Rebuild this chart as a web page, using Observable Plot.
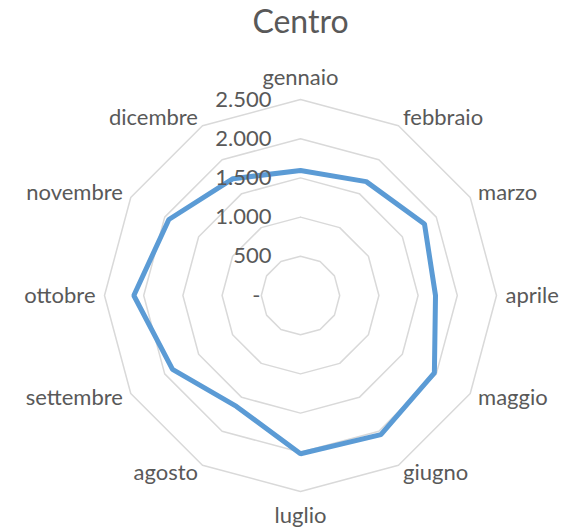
<!DOCTYPE html>
<html><head><meta charset="utf-8">
<script src="https://cdn.jsdelivr.net/npm/d3@7"></script>
<script src="https://cdn.jsdelivr.net/npm/@observablehq/plot@0.6"></script>
<style>body{margin:0;background:#fff;}</style>
</head><body><div id="chart"></div>
<script>
const title = "Centro";
const months = ["gennaio","febbraio","marzo","aprile","maggio","giugno","luglio","agosto","settembre","ottobre","novembre","dicembre"];
const values = [1594, 1677, 1826, 1722, 1972, 2050, 2019, 1634, 1885, 2126, 1939, 1721];
const tickValues = [0, 500, 1000, 1500, 2000, 2500];

const W = 581, H = 531, cx = 300, cy = 295, R = 196, maxV = 2500;
const k = maxV / R; // value units per pixel
const n = months.length;
const ang = i => i * 2 * Math.PI / n;
const px = (v, i) => v * Math.sin(ang(i));
const py = (v, i) => v * Math.cos(ang(i));

const fmt = d3.formatLocale({decimal: ",", thousands: ".", grouping: [3], currency: ["", ""]}).format(",d");
const tickLabel = v => v === 0 ? "-" : fmt(v);

const rings = [];
tickValues.filter(t => t > 0).forEach(t => {
  for (let i = 0; i <= n; i++) rings.push({t, x: px(t, i % n), y: py(t, i % n)});
});
const series = [];
for (let i = 0; i <= n; i++) series.push({x: px(values[i % n], i % n), y: py(values[i % n], i % n)});

const labels = months.map((m, i) => {
  const s = Math.sin(ang(i));
  const side = Math.abs(s) < 1e-6 ? "middle" : (s > 0 ? "start" : "end");
  const r = (side === "middle" ? (Math.cos(ang(i)) > 0 ? 218 : 220) : 205) * k;
  return {m, side, x: r * Math.sin(ang(i)), y: r * Math.cos(ang(i))};
});

const font = "Lato, 'Open Sans', sans-serif";
const txtColor = "#595959";

const plot = Plot.plot({
  width: W, height: H,
  margin: 0,
  x: {domain: [-cx * k, (W - cx) * k], axis: null},
  y: {domain: [-(H - cy) * k, cy * k], axis: null},
  style: {fontFamily: font, background: "#fff"},
  marks: [
    Plot.line(rings, {x: "x", y: "y", z: "t", stroke: "#d9d9d9", strokeWidth: 1.5}),
    Plot.line(series, {x: "x", y: "y", stroke: "#5b9bd5", strokeWidth: 5, strokeLinejoin: "miter"}),
    Plot.text(tickValues.filter(t => t > 0), {x: -29 * k, y: d => d, text: tickLabel, textAnchor: "end", fontSize: 22, fill: txtColor}),
    Plot.text([0], {x: -40 * k, y: d => d, text: tickLabel, textAnchor: "end", fontSize: 22, fill: txtColor}),
    ...["start", "middle", "end"].map(side =>
      Plot.text(labels.filter(d => d.side === side), {x: "x", y: "y", text: "m", textAnchor: side, fontSize: 22, fill: txtColor})),
    Plot.text([title], {x: 0, y: (cy - 22.3) * k, text: d => d, fontSize: 32, fill: txtColor, textAnchor: "middle"})
  ]
});
document.getElementById("chart").appendChild(plot);
</script>
</body></html>
